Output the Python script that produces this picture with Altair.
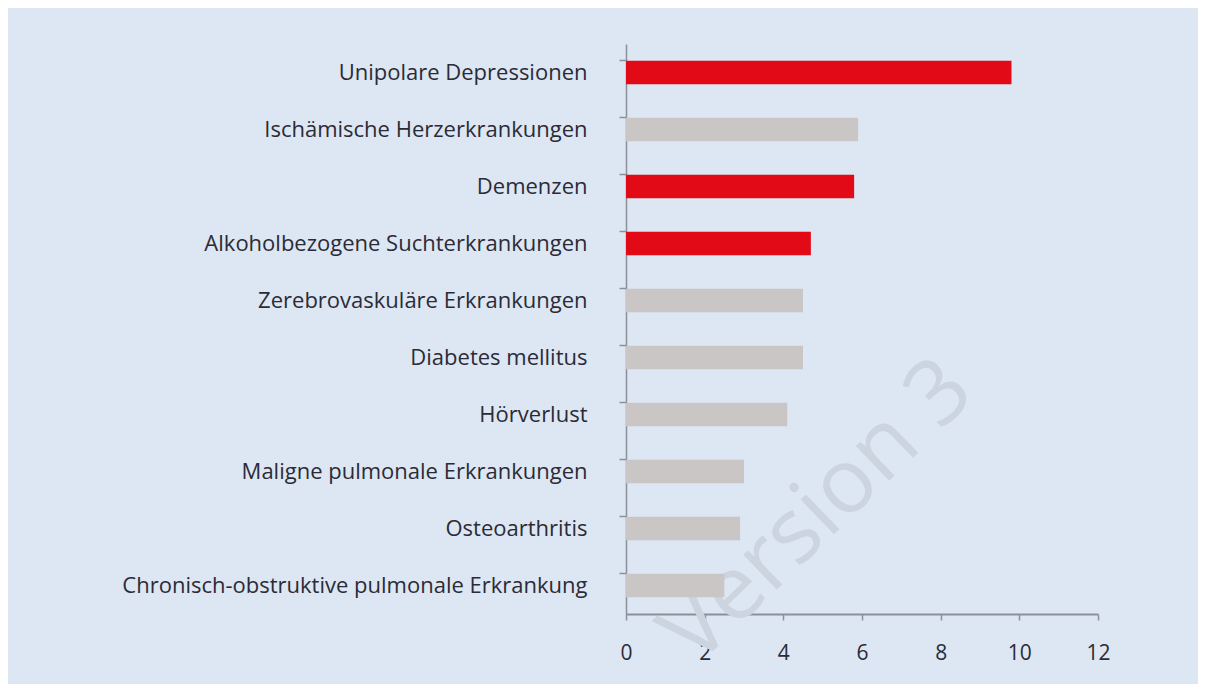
import altair as alt
import pandas as pd

categories = [
    "Unipolare Depressionen",
    "Ischämische Herzerkrankungen ",
    "Demenzen",
    "Alkoholbezogene Suchterkrankungen",
    "Zerebrovaskuläre Erkrankungen",
    "Diabetes mellitus",
    "Hörverlust",
    "Maligne pulmonale Erkrankungen",
    "Osteoarthritis",
    "Chronisch-obstruktive pulmonale Erkrankung",
]
values = [9.8, 5.9, 5.8, 4.7, 4.5, 4.5, 4.1, 3.0, 2.9, 2.5]
highlight = [True, False, True, True, False, False, False, False, False, False]
x_ticks = [0, 2, 4, 6, 8, 10, 12]
watermark = ["Version 3"]

df = pd.DataFrame({"Kategorie": categories, "Wert": values, "Psych": highlight})

FONT = "Open Sans"
TEXT = "#2b2b36"
AXIS = "#8c9099"

bars = alt.Chart(df).mark_bar().encode(
    y=alt.Y(
        "Kategorie:N",
        sort=categories,
        title=None,
        scale=alt.Scale(paddingInner=0.59, paddingOuter=0.295),
        axis=alt.Axis(
            bandPosition=0,
            tickSize=7,
            tickColor=AXIS,
            domainColor=AXIS,
            domainWidth=1.5,
            tickWidth=1.5,
            labelPadding=32,
            labelFontSize=22,
            labelFont=FONT,
            labelColor=TEXT,
            labelLimit=600,
        ),
    ),
    x=alt.X(
        "Wert:Q",
        title=None,
        scale=alt.Scale(domain=[0, 12], nice=False),
        axis=alt.Axis(
            values=x_ticks,
            tickSize=6,
            tickColor=AXIS,
            domainColor=AXIS,
            domainWidth=2,
            tickWidth=1.5,
            labelPadding=22,
            labelFontSize=21,
            labelFont=FONT,
            labelColor=TEXT,
            labelFlush=False,
            grid=False,
        ),
    ),
    color=alt.Color(
        "Psych:N",
        scale=alt.Scale(domain=[True, False], range=["#e30a17", "#c9c6c5"]),
        legend=None,
    ),
)

wm = alt.Chart(pd.DataFrame({"t": watermark})).mark_text(
    angle=316, fontSize=90, font=FONT, color="#ccd4df", align="center", baseline="middle"
).encode(text="t:N", x=alt.value(192), y=alt.value(468))

chart = alt.layer(wm, bars).properties(
    width=472,
    height=570,
    background="#dde6f3",
    padding={"left": 618, "top": 36, "right": 100, "bottom": 70},
    autosize=alt.AutoSizeParams(type="none"),
).configure_view(stroke=None)

chart.save("out.html", embed_options={"renderer": "svg", "actions": False})
